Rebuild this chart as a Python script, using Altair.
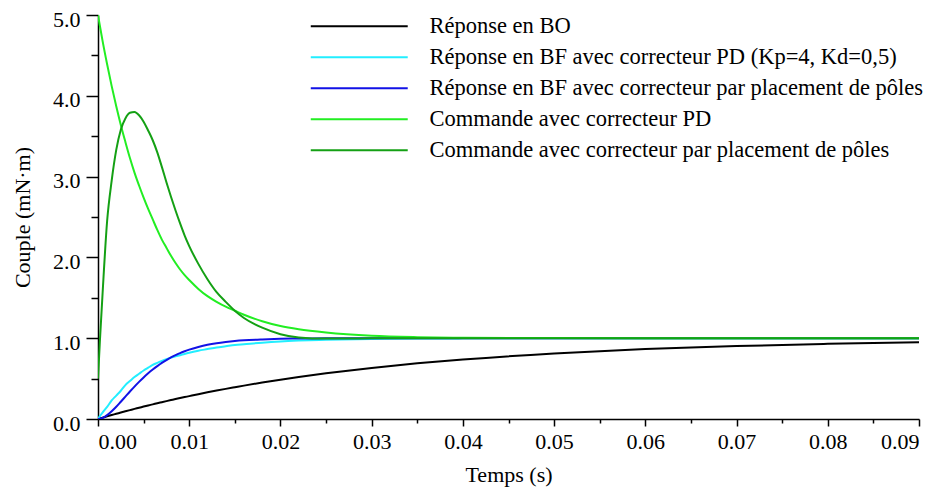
import altair as alt
import pandas as pd

# time samples (s)
t = [0, 0.0002, 0.0005, 0.001, 0.0015, 0.002, 0.0025, 0.003, 0.0035, 0.004,
     0.0045, 0.005, 0.0055, 0.006, 0.0065, 0.007, 0.0075, 0.008, 0.0085, 0.009,
     0.0095, 0.010, 0.011, 0.012, 0.013, 0.014, 0.015, 0.016, 0.018, 0.020,
     0.022, 0.025, 0.030, 0.035, 0.040, 0.050, 0.060, 0.070, 0.080, 0.090]

rep_bo = [0, 0.0066, 0.0165, 0.033, 0.049, 0.064, 0.080, 0.095, 0.110, 0.125,
          0.139, 0.154, 0.168, 0.181, 0.195, 0.208, 0.221, 0.234, 0.247, 0.259,
          0.271, 0.283, 0.307, 0.330, 0.352, 0.373, 0.393, 0.413, 0.451, 0.487,
          0.520, 0.565, 0.632, 0.689, 0.736, 0.811, 0.865, 0.903, 0.930, 0.950]

rep_bf_pd = [0, 0.035, 0.08, 0.15, 0.23, 0.29, 0.35, 0.42, 0.47, 0.52,
             0.56, 0.60, 0.635, 0.67, 0.695, 0.72, 0.74, 0.76, 0.775, 0.79,
             0.805, 0.82, 0.845, 0.865, 0.885, 0.90, 0.915, 0.925, 0.945, 0.96,
             0.97, 0.98, 0.99, 0.995, 0.998, 1.0, 1.0, 1.0, 1.0, 1.0]

rep_bf_pp = [0, 0.002, 0.013, 0.048, 0.096, 0.152, 0.214, 0.277, 0.34, 0.401,
             0.459, 0.514, 0.565, 0.612, 0.655, 0.695, 0.73, 0.762, 0.79, 0.816,
             0.838, 0.858, 0.891, 0.918, 0.938, 0.953, 0.965, 0.974, 0.985, 0.992,
             0.996, 0.999, 1.0, 1.0, 1.0, 1.0, 1.0, 1.0, 1.0, 1.0]

cmd_pd = [5.0, 4.87, 4.68, 4.39, 4.12, 3.87, 3.64, 3.43, 3.23, 3.05,
          2.89, 2.74, 2.60, 2.47, 2.34, 2.22, 2.12, 2.02, 1.93, 1.85,
          1.78, 1.72, 1.61, 1.52, 1.45, 1.39, 1.34, 1.29, 1.21, 1.15,
          1.11, 1.07, 1.03, 1.013, 1.006, 1.001, 1.0, 1.0, 1.0, 1.0]

cmd_pp = [0.5, 0.95, 1.55, 2.45, 2.95, 3.33, 3.58, 3.72, 3.79, 3.80,
          3.76, 3.68, 3.57, 3.45, 3.30, 3.12, 2.93, 2.75, 2.58, 2.42,
          2.27, 2.14, 1.92, 1.73, 1.57, 1.45, 1.34, 1.25, 1.13, 1.05,
          1.01, 0.995, 0.998, 1.0, 1.0, 1.0, 1.0, 1.0, 1.0, 1.0]

labels = [
    "Réponse en BO",
    "Réponse en BF avec correcteur PD (Kp=4, Kd=0,5)",
    "Réponse en BF avec correcteur par placement de pôles",
    "Commande avec correcteur PD",
    "Commande avec correcteur par placement de pôles",
]
colors = ["#000000", "#22eeff", "#1212e6", "#22ee22", "#14a014"]

x_major = [0.00, 0.01, 0.02, 0.03, 0.04, 0.05, 0.06, 0.07, 0.08, 0.09]
x_minor = [0.005, 0.015, 0.025, 0.035, 0.045, 0.055, 0.065, 0.075, 0.085]
y_major = [0, 1, 2, 3, 4, 5]
y_minor = [0.5, 1.5, 2.5, 3.5, 4.5]

series = [rep_bo, rep_bf_pd, rep_bf_pp, cmd_pd, cmd_pp]
rows = []
for k, (name, vals) in enumerate(zip(labels, series)):
    for ti, v in zip(t, vals):
        rows.append({"t": ti, "v": v, "serie": name, "k": k})
df = pd.DataFrame(rows)

FONT = "Liberation Serif"
xscale = alt.Scale(domain=[0, 0.09], nice=False, zero=False)
yscale = alt.Scale(domain=[0, 5], nice=False)

axis_common = dict(
    domainColor="#000000", domainWidth=1.5, tickColor="#000000", tickWidth=1.5,
    labelFont=FONT, labelFontSize=22, labelColor="#000000",
    titleFont=FONT, titleFontSize=22, titleFontWeight="normal", titleColor="#000000",
    grid=False,
)

lines = alt.Chart(df).mark_line(strokeWidth=2, interpolate="monotone", clip=True).encode(
    x=alt.X("t:Q", scale=xscale,
            axis=alt.Axis(values=x_major, format=".2f", title="Temps (s)", tickSize=7,
                          labelPadding=5, titlePadding=12, orient="bottom", **axis_common)),
    y=alt.Y("v:Q", scale=yscale,
            axis=alt.Axis(values=y_major, format=".1f", title="Couple (mN·m)", tickSize=12,
                          labelPadding=6, labelOffset=4, titlePadding=18, orient="left",
                          **axis_common)),
    color=alt.Color("serie:N", scale=alt.Scale(domain=labels, range=colors),
                    legend=alt.Legend(
                        title=None, orient="none", legendX=250, legendY=0,
                        symbolType="M-5,0H5", symbolSize=376, symbolStrokeWidth=2,
                        labelFont=FONT, labelFontSize=22.5, labelColor="#000000",
                        labelOffset=59, rowPadding=8, padding=0, labelLimit=700)),
    order=alt.Order("k:Q"),
)

minor = alt.Chart(df).mark_line(opacity=0).encode(
    x=alt.X("t:Q", scale=xscale,
            axis=alt.Axis(values=x_minor, labels=False, domain=False, title="", tickSize=4,
                          tickColor="#000000", tickWidth=1.5, grid=False, orient="bottom")),
    y=alt.Y("v:Q", scale=yscale,
            axis=alt.Axis(values=y_minor, labels=False, domain=False, title="", tickSize=7,
                          tickColor="#000000", tickWidth=1.5, grid=False, orient="left")),
)

chart = alt.layer(lines, minor).resolve_axis(x="independent", y="independent").properties(
    width=821, height=404,
    autosize=alt.AutoSizeParams(type="none"),
    padding={"left": 90, "top": 7, "right": 12, "bottom": 75},
    background="#ffffff",
).configure_view(strokeWidth=0)

chart.save("out.html", embed_options={"renderer": "svg", "actions": False})
